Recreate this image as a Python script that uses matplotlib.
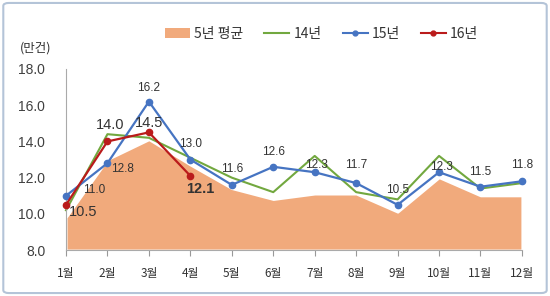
import numpy as np
import matplotlib
matplotlib.use('Agg')
from matplotlib import pyplot as plt
from matplotlib.patches import Patch, FancyBboxPatch
from matplotlib.lines import Line2D

plt.rcParams['font.family'] = ['Noto Sans CJK KR', 'DejaVu Sans']

# Данные
months = ['1월', '2월', '3월', '4월', '5월', '6월', '7월', '8월', '9월', '10월', '11월', '12월']
avg5 = [9.8, 13.0, 14.1, 12.7, 11.4, 10.8, 11.1, 11.1, 10.1, 12.0, 11.0, 11.0]
y14 = [10.2, 14.4, 14.2, 13.1, 12.0, 11.2, 13.2, 11.2, 10.8, 13.2, 11.4, 11.7]
y15 = [11.0, 12.8, 16.2, 13.0, 11.6, 12.6, 12.3, 11.7, 10.5, 12.3, 11.5, 11.8]
y16 = [10.5, 14.0, 14.5, 12.1]
yticks = [8.0, 10.0, 12.0, 14.0, 16.0, 18.0]

c_area = '#F1AA7C'
c_green = '#72A83F'
c_blue = '#4674C2'
c_red = '#BA1B1B'
c_text = '#333333'
num_font = 'Liberation Sans'

fig = plt.figure(figsize=(5.5, 2.96), dpi=100)
fig.patches.append(FancyBboxPatch((0.006, 0.01), 0.988, 0.98, boxstyle='round,pad=0,rounding_size=0.01',
                                  transform=fig.transFigure, fill=False, edgecolor='#B4C4D8', lw=1.5))
ax = fig.add_axes([0.12, 0.155, 0.829, 0.612])
x = np.arange(len(months))

ax.fill_between(x, 8.0, avg5, color=c_area, edgecolor='white', lw=1.5, zorder=1)
ax.plot(x, y14, color=c_green, lw=1.5, zorder=2, clip_on=False)
ax.plot(x, y15, color=c_blue, lw=1.6, marker='o', ms=4.5, zorder=3, clip_on=False)
ax.plot(x[:len(y16)], y16, color=c_red, lw=1.6, marker='o', ms=4.5, zorder=4, clip_on=False)

# Подписи 15년 (смещения подписей)
offs15 = [(0.67, 0.3), (0.37, -0.3), (0, 0.75), (0, 0.85), (0, 0.9), (0, 0.8),
          (0.05, 0.4), (0, 1.0), (0, 0.8), (0.07, 0.3), (0, 0.8), (0, 0.9)]
for i, v in enumerate(y15):
    dx, dy = offs15[i]
    ax.text(i + dx, v + dy, f'{v:.1f}', ha='center', va='center', fontsize=8.5,
            color=c_text, family=num_font, zorder=6)

# Подписи 16년
offs16 = [(0.41, -0.4), (0.06, 0.9), (0, 0.5), (0.24, -0.7)]
for i, v in enumerate(y16):
    dx, dy = offs16[i]
    ax.text(i + dx, v + dy, f'{v:.1f}', ha='center', va='center', fontsize=10.5,
            color=c_text, family=num_font, zorder=6,
            fontweight='bold' if i == 3 else 'normal')

ax.set_xlim(0, 11)
ax.set_ylim(8.0, 18.0)
ax.set_yticks(yticks)
ax.set_yticklabels([f'{t:.1f}' for t in yticks], fontsize=10, color='#404040', family=num_font)
ax.set_xticks(x)
ax.set_xticklabels(months, fontsize=8.5, color=c_text)
ax.tick_params(axis='y', length=0, pad=15)
ax.tick_params(axis='x', length=4, color='#999999', pad=8)
for s in ['top', 'right']:
    ax.spines[s].set_visible(False)
ax.spines['left'].set_color('#AAAAAA')
ax.spines['bottom'].set_color('#AAAAAA')

fig.text(0.036, 0.838, '(만건)', fontsize=9, color=c_text, va='center')

handles = [Patch(facecolor=c_area, edgecolor='none'),
           Line2D([], [], color=c_green, lw=1.5),
           Line2D([], [], color=c_blue, lw=1.5, marker='o', ms=3.5),
           Line2D([], [], color=c_red, lw=1.5, marker='o', ms=3.5)]
fig.legend(handles, ['5년 평균', '14년', '15년', '16년'], ncol=4, frameon=False,
           loc='center', bbox_to_anchor=(0.585, 0.885), fontsize=10, handlelength=1.8,
           handletextpad=0.3, columnspacing=1.5, labelcolor=c_text)

plt.savefig('out.png', dpi=100)
